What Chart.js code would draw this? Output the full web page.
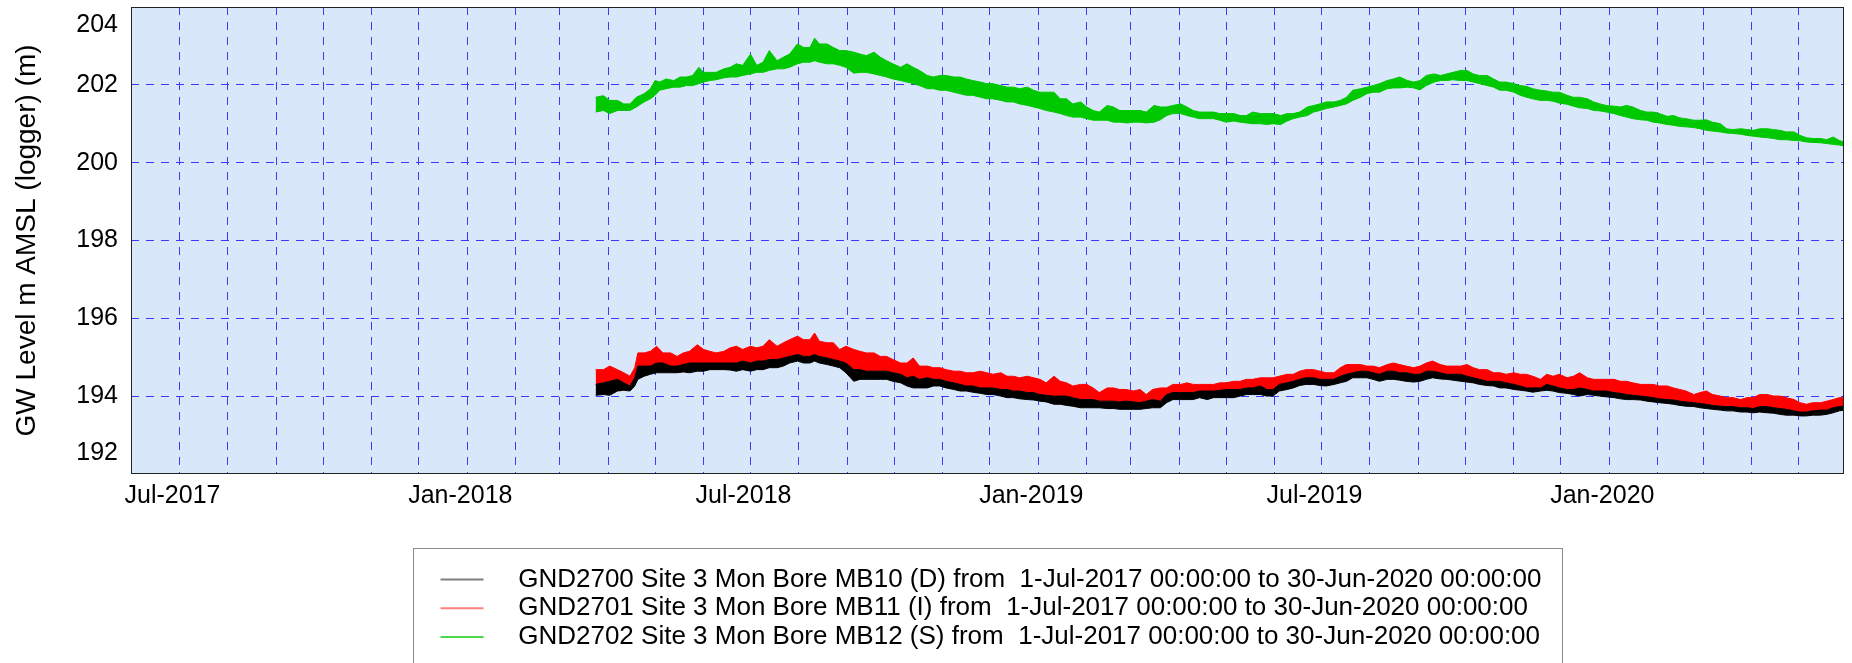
<!DOCTYPE html>
<html><head><meta charset="utf-8">
<script src="https://cdn.jsdelivr.net/npm/chart.js@4.4.1/dist/chart.umd.min.js"></script>
<style>html,body{margin:0;padding:0;background:#fff;} #wrap{width:1852px;height:663px;}</style>
</head><body><div id="wrap"><canvas id="c" width="1852" height="663"></canvas></div>
<script>
// ---------- DATA (days counted from 1-Jul-2017, levels in m AMSL) ----------
const seriesNames = [
  'GND2700 Site 3 Mon Bore MB10 (D) from  1-Jul-2017 00:00:00 to 30-Jun-2020 00:00:00',
  'GND2701 Site 3 Mon Bore MB11 (I) from  1-Jul-2017 00:00:00 to 30-Jun-2020 00:00:00',
  'GND2702 Site 3 Mon Bore MB12 (S) from  1-Jul-2017 00:00:00 to 30-Jun-2020 00:00:00'
];
const xAxisDays = [-31, 1064];
const gridMonths = ['2017-07','2017-08','2017-09','2017-10','2017-11','2017-12',
  '2018-01','2018-02','2018-03','2018-04','2018-05','2018-06','2018-07','2018-08','2018-09','2018-10','2018-11','2018-12',
  '2019-01','2019-02','2019-03','2019-04','2019-05','2019-06','2019-07','2019-08','2019-09','2019-10','2019-11','2019-12',
  '2020-01','2020-02','2020-03','2020-04','2020-05'];
const xLabelMonths = ['2017-07','2018-01','2018-07','2019-01','2019-07','2020-01'];
const xTickLabels = ['Jul-2017','Jan-2018','Jul-2018','Jan-2019','Jul-2019','Jan-2020'];
const yTickValues = [192,194,196,198,200,202,204];

// MB10 / MB11 sample days
const bDays = [266,271,275,280,284,288,291,293,297,301,305,309,314,318,322,326,331,335,339,343,348,352,356,360,365,369,373,377,382,386,390,395,399,403,406,409,414,418,422,426,431,435,439,444,448,452,456,461,465,469,473,478,482,486,490,495,499,503,507,512,516,520,525,529,533,537,542,546,550,554,
  559,563,567,571,576,580,584,588,593,597,601,605,610,614,618,622,627,631,635,640,644,648,652,657,661,665,669,674,678,682,686,691,695,699,703,708,712,716,720,725,729,733,738,742,746,750,755,759,763,767,772,776,780,784,789,793,797,801,806,810,814,819,823,827,831,836,840,
  844,848,853,857,861,865,870,874,878,882,887,891,895,900,904,908,912,917,921,925,929,934,938,942,946,951,955,959,963,968,972,976,980,985,989,993,998,1002,1006,1010,1015,1019,1023,1027,1032,1036,1040,1044,1049,1053,1057,1061,1064];

// MB11 (I) upper envelope
const mb11Hi = [194.68,194.68,194.77,194.68,194.60,194.51,194.73,195.11,195.11,195.15,
  195.28,195.11,195.11,195.02,195.11,195.15,195.32,195.20,195.15,195.11,
  195.15,195.24,195.28,195.20,195.28,195.24,195.28,195.45,195.28,195.37,
  195.45,195.54,195.45,195.45,195.62,195.41,195.37,195.37,195.20,195.28,
  195.20,195.15,195.11,195.11,195.02,195.02,194.94,194.85,194.85,194.98,
  194.77,194.77,194.73,194.73,194.68,194.64,194.64,194.60,194.60,194.64,
  194.60,194.56,194.60,194.51,194.51,194.47,194.51,194.47,194.43,194.34,
  194.51,194.38,194.34,194.26,194.30,194.30,194.21,194.09,194.21,194.21,
  194.17,194.17,194.13,194.17,194.04,194.17,194.21,194.21,194.30,194.30,
  194.34,194.30,194.30,194.30,194.30,194.34,194.34,194.38,194.38,194.43,
  194.43,194.47,194.47,194.47,194.51,194.56,194.56,194.64,194.68,194.68,
  194.64,194.60,194.60,194.73,194.81,194.81,194.81,194.77,194.77,194.73,
  194.81,194.85,194.81,194.77,194.73,194.77,194.85,194.90,194.81,194.77,
  194.77,194.77,194.81,194.73,194.68,194.68,194.60,
  194.60,194.56,194.60,194.56,194.56,194.51,194.43,194.56,194.51,194.56,
  194.47,194.51,194.60,194.47,194.43,194.43,194.43,194.43,194.38,194.38,
  194.34,194.30,194.30,194.30,194.26,194.26,194.21,194.17,194.13,194.04,
  194.09,194.13,194.04,194.00,193.96,193.96,193.91,193.96,193.96,194.04,
  194.04,194.00,194.00,193.96,193.91,193.83,193.79,193.83,193.83,193.87,
  193.91,193.96,193.96];

// MB10 (D) upper envelope
const mb10Hi = [194.30,194.34,194.38,194.43,194.34,194.26,194.47,194.77,194.77,194.77,
  194.85,194.85,194.77,194.77,194.81,194.85,194.85,194.85,194.85,194.85,
  194.85,194.85,194.85,194.90,194.85,194.90,194.90,194.94,194.94,194.98,
  195.02,195.07,195.02,195.02,195.07,195.02,194.98,194.94,194.90,194.85,
  194.68,194.68,194.64,194.64,194.64,194.64,194.60,194.56,194.47,194.51,
  194.43,194.47,194.43,194.43,194.38,194.34,194.30,194.26,194.26,194.21,
  194.21,194.21,194.17,194.17,194.13,194.13,194.09,194.09,194.04,194.02,
  194.00,194.00,194.00,193.96,193.91,193.91,193.91,193.87,193.87,193.87,
  193.85,193.87,193.85,193.83,193.87,193.91,193.87,194.04,194.09,194.09,
  194.09,194.09,194.13,194.13,194.13,194.15,194.17,194.17,194.17,194.21,
  194.21,194.26,194.17,194.17,194.30,194.34,194.38,194.43,194.47,194.47,
  194.43,194.43,194.43,194.51,194.56,194.60,194.64,194.64,194.60,194.56,
  194.64,194.64,194.60,194.60,194.56,194.56,194.64,194.64,194.60,194.56,
  194.56,194.56,194.51,194.47,194.43,194.38,194.38,
  194.38,194.34,194.30,194.26,194.21,194.21,194.21,194.30,194.26,194.21,
  194.17,194.17,194.21,194.17,194.13,194.13,194.13,194.09,194.07,194.04,
  194.02,194.00,193.98,193.96,193.93,193.91,193.90,193.87,193.85,193.83,
  193.81,193.79,193.76,193.74,193.73,193.73,193.70,193.70,193.68,193.73,
  193.73,193.70,193.68,193.66,193.62,193.59,193.59,193.62,193.64,193.64,
  193.70,193.73,193.74];

// MB10 (D) lower envelope
const mb10Lo = [194.02,194.04,194.02,194.13,194.15,194.13,194.26,194.43,194.51,194.56,
  194.60,194.60,194.60,194.60,194.62,194.60,194.64,194.64,194.68,194.68,
  194.68,194.67,194.64,194.68,194.64,194.68,194.68,194.73,194.73,194.77,
  194.85,194.90,194.85,194.85,194.90,194.85,194.81,194.77,194.73,194.60,
  194.38,194.43,194.43,194.43,194.43,194.43,194.38,194.34,194.26,194.21,
  194.21,194.21,194.26,194.26,194.21,194.17,194.13,194.13,194.10,194.07,
  194.04,194.04,194.00,193.96,193.96,193.93,193.91,193.90,193.87,193.85,
  193.79,193.79,193.76,193.74,193.70,193.70,193.70,193.70,193.68,193.68,
  193.66,193.66,193.66,193.66,193.68,193.70,193.70,193.83,193.91,193.91,
  193.91,193.91,193.96,193.91,193.96,193.96,193.96,193.96,194.00,194.04,
  194.04,194.04,194.00,194.00,194.13,194.17,194.21,194.27,194.30,194.30,
  194.27,194.26,194.30,194.34,194.38,194.47,194.47,194.47,194.43,194.38,
  194.43,194.43,194.41,194.38,194.36,194.38,194.43,194.47,194.44,194.43,
  194.41,194.38,194.36,194.34,194.30,194.27,194.26,
  194.21,194.21,194.17,194.15,194.13,194.10,194.13,194.15,194.13,194.09,
  194.07,194.04,194.00,194.04,194.02,194.00,193.98,193.96,193.93,193.91,
  193.91,193.90,193.87,193.85,193.83,193.81,193.79,193.76,193.74,193.73,
  193.70,193.68,193.66,193.64,193.62,193.62,193.59,193.59,193.57,193.59,
  193.57,193.56,193.53,193.51,193.51,193.49,193.49,193.51,193.51,193.53,
  193.57,193.62,193.64];

// MB12 sample days
const gDays = [266,271,275,280,284,288,292,297,301,304,307,311,316,320,324,328,332,335,339,343,348,352,356,360,365,369,373,377,382,386,390,395,399,403,406,409,414,418,422,426,431,435,439,444,448,452,456,461,465,469,473,478,482,486,490,495,499,503,507,512,516,520,
  525,529,533,537,542,546,550,554,559,563,567,571,576,580,584,588,593,597,601,606,610,614,618,623,627,631,635,640,644,648,652,657,661,665,669,674,678,682,686,691,695,699,704,708,712,716,721,725,729,733,738,742,746,750,755,759,763,767,772,776,780,785,789,793,797,802,806,810,814,819,823,827,831,836,840,
  844,848,853,857,861,865,870,874,878,882,887,891,895,900,904,908,912,917,921,925,929,934,938,942,946,951,955,959,963,968,972,976,980,985,989,993,998,1002,1006,1010,1015,1019,1023,1027,1032,1036,1040,1044,1049,1053,1057,1061,1064];

// MB12 (S) upper envelope
const mb12Hi = [201.68,201.72,201.60,201.60,201.51,201.51,201.68,201.77,201.90,202.11,
  202.07,202.15,202.11,202.20,202.20,202.24,202.45,202.32,202.32,202.32,
  202.41,202.45,202.54,202.50,202.79,202.50,202.58,202.88,202.62,202.71,
  202.79,203.05,202.96,202.96,203.20,203.05,203.05,202.96,202.88,202.88,
  202.84,202.79,202.75,202.84,202.71,202.62,202.54,202.45,202.54,202.45,
  202.37,202.24,202.20,202.24,202.24,202.20,202.20,202.15,202.11,202.07,
  202.03,202.03,
  201.98,201.94,201.94,201.90,201.94,201.86,201.81,201.81,201.81,201.64,
  201.64,201.51,201.56,201.43,201.34,201.30,201.47,201.43,201.34,201.34,
  201.34,201.34,201.30,201.47,201.43,201.43,201.47,201.51,201.43,201.34,
  201.30,201.30,201.30,201.26,201.26,201.26,201.21,201.21,201.30,201.26,
  201.26,201.26,201.21,201.26,201.26,201.30,201.43,201.47,201.51,201.56,
  201.56,201.60,201.68,201.86,201.90,201.94,201.98,202.03,202.11,202.15,
  202.20,202.11,202.07,202.11,202.24,202.28,202.24,202.28,202.32,202.37,
  202.37,202.28,202.24,202.24,202.15,
  202.07,202.07,202.03,201.98,201.96,201.90,201.86,201.84,201.81,201.81,
  201.73,201.68,201.68,201.64,201.56,201.51,201.47,201.45,201.43,201.47,
  201.43,201.34,201.30,201.30,201.26,201.19,201.21,201.15,201.13,201.09,
  201.09,201.10,201.04,201.00,200.87,200.85,200.87,200.85,200.83,200.87,
  200.87,200.85,200.83,200.79,200.79,200.70,200.64,200.62,200.62,200.59,
  200.66,200.57,200.53];

// MB12 (S) lower envelope
const mb12Lo = [201.30,201.34,201.26,201.34,201.34,201.34,201.43,201.56,201.64,201.73,
  201.86,201.90,201.94,201.94,201.98,201.98,202.03,202.07,202.11,202.13,
  202.18,202.20,202.20,202.24,202.28,202.32,202.32,202.37,202.41,202.41,
  202.45,202.54,202.58,202.58,202.62,202.58,202.54,202.54,202.50,202.45,
  202.30,202.32,202.32,202.28,202.24,202.20,202.15,202.11,202.07,202.03,
  201.98,201.90,201.90,201.86,201.86,201.81,201.77,201.73,201.73,201.68,
  201.64,201.64,
  201.60,201.56,201.56,201.51,201.47,201.43,201.39,201.34,201.30,201.26,
  201.21,201.17,201.17,201.13,201.09,201.09,201.09,201.04,201.04,201.02,
  201.04,201.04,201.02,201.04,201.10,201.21,201.26,201.26,201.21,201.17,
  201.13,201.13,201.13,201.09,201.04,201.07,201.04,201.02,201.00,201.00,
  200.98,201.00,200.98,201.07,201.13,201.17,201.21,201.30,201.34,201.39,
  201.43,201.47,201.51,201.60,201.68,201.77,201.81,201.81,201.90,201.92,
  201.92,201.94,201.92,201.87,201.98,202.07,202.11,202.11,202.13,202.11,
  202.11,202.07,202.03,201.98,201.94,
  201.86,201.86,201.81,201.73,201.68,201.64,201.60,201.60,201.58,201.53,
  201.50,201.45,201.41,201.39,201.34,201.33,201.30,201.26,201.21,201.17,
  201.13,201.10,201.09,201.04,201.02,200.98,200.96,200.93,200.92,200.90,
  200.87,200.83,200.81,200.79,200.76,200.75,200.73,200.70,200.68,200.66,
  200.64,200.62,200.59,200.59,200.57,200.56,200.53,200.52,200.51,200.49,
  200.47,200.45,200.43];

// ---------- CHART ----------
const FONT = "'Liberation Sans', Arial, Helvetica, sans-serif";
Chart.defaults.font.family = FONT;
Chart.defaults.color = '#000';

const GRID = '#3a3aff';
const PLOT_BG = '#d9e7fb';
const DAY0 = Date.UTC(2017, 6, 1);
const monthToDay = m => (Date.UTC(+m.slice(0,4), +m.slice(5,7) - 1, 1) - DAY0) / 864e5;
const gridDays = gridMonths.map(monthToDay);
const labelDays = xLabelMonths.map(monthToDay);

const pts = (days, vals) => days.map((d, i) => ({x: d, y: vals[i]}));

const datasets = [
  {label: seriesNames[0], legendColor: 'rgba(0,0,0,0.5)', data: pts(bDays, mb10Hi), borderColor: '#000', backgroundColor: '#000', fill: '+1'},
  {label: '', data: pts(bDays, mb10Lo), borderColor: '#000', backgroundColor: '#000', fill: false},
  {label: seriesNames[1], legendColor: 'rgba(255,0,0,0.5)', data: pts(bDays, mb11Hi), borderColor: '#ff0000', backgroundColor: '#ff0000', fill: '-2'},
  {label: seriesNames[2], legendColor: 'rgba(0,200,0,0.7)', data: pts(gDays, mb12Hi), borderColor: '#00c800', backgroundColor: '#00c800', fill: '+1'},
  {label: '', data: pts(gDays, mb12Lo), borderColor: '#00c800', backgroundColor: '#00c800', fill: false}
].map(d => Object.assign({borderWidth: 1, pointRadius: 0, tension: 0}, d));

let legendItemWidth = 0;
const plotDecor = {
  id: 'plotDecor',
  beforeDraw(chart) {
    const {ctx, chartArea: a} = chart;
    ctx.save();
    ctx.fillStyle = PLOT_BG;
    ctx.fillRect(a.left, a.top, a.right - a.left, a.bottom - a.top);
    ctx.restore();
    // keep the end labels of the y axis inside the plot height
    chart.scales.y.getLabelItems().forEach(it => {
      if (it._moved) return;
      if (it.label === String(yTickValues[yTickValues.length - 1])) it.options.translation[1] += 18;
      if (it.label === String(yTickValues[0])) it.options.translation[1] -= 21;
      it._moved = true;
    });
  },
  afterLayout(chart) {
    const lg = chart.legend;
    const lw = lg && lg.lineWidths;
    if (lw && lw.length) {
      const m = Math.max(...lw);
      legendItemWidth = m - lg.options.labels.padding;
      lw.fill(m - 7);
    }
  },
  afterDatasetsDraw(chart) {
    const {ctx, chartArea: a} = chart;
    ctx.save();
    ctx.strokeStyle = '#222';
    ctx.lineWidth = 1;
    ctx.strokeRect(Math.round(a.left) + 0.5, Math.round(a.top) + 0.5, Math.round(a.right - a.left) - 1, Math.round(a.bottom - a.top) - 1);
    ctx.restore();
  },
  afterDraw(chart) {
    const lg = chart.legend;
    if (!lg || !legendItemWidth) return;
    const {ctx, chartArea: a} = chart;
    const w = legendItemWidth + 48;
    const cx = (a.left + a.right) / 2;
    const left = Math.round(cx - w / 2) + 0.5;
    const top = Math.round(lg.top - 16) + 0.5;
    ctx.save();
    ctx.strokeStyle = '#8a8a8a';
    ctx.lineWidth = 1;
    ctx.strokeRect(left, top, Math.round(w), chart.height - top + 5);
    ctx.restore();
  }
};

new Chart(document.getElementById('c'), {
  type: 'line',
  data: {datasets},
  plugins: [plotDecor],
  options: {
    responsive: false,
    animation: false,
    devicePixelRatio: 1,
    events: [],
    layout: {padding: {left: 0, top: 7, right: 8, bottom: 3}},
    plugins: {
      tooltip: {enabled: false},
      legend: {
        position: 'bottom',
        fullSize: false,
        labels: {
          usePointStyle: true,
          pointStyleWidth: 43,
          padding: 2.7,
          color: '#000',
          font: {size: 26, family: FONT},
          generateLabels: (chart) => chart.data.datasets
            .map((ds, i) => ({ds, i}))
            .filter(o => o.ds.label)
            .map(({ds, i}) => ({
              text: '   ' + ds.label,
              strokeStyle: ds.legendColor,
              fillStyle: ds.legendColor,
              lineWidth: 2,
              pointStyle: 'line',
              hidden: false,
              datasetIndex: i,
              fontColor: '#000'
            }))
        }
      }
    },
    scales: {
      x: {
        type: 'linear',
        min: xAxisDays[0],
        max: xAxisDays[1],
        afterBuildTicks: s => { s.ticks = gridDays.map(v => ({value: v})); },
        afterFit: s => { s.height = 90; s.paddingLeft = 0; s.paddingRight = 0; },
        grid: {color: GRID, lineWidth: 1, drawTicks: false},
        border: {display: false, dash: [8, 7]},
        ticks: {
          autoSkip: false, maxRotation: 0, minRotation: 0, padding: 7, labelOffset: -7,
          color: '#000', font: {size: 25, family: FONT},
          callback: v => { const k = labelDays.indexOf(v); return k >= 0 ? xTickLabels[k] : ''; }
        }
      },
      y: {
        type: 'linear',
        min: yTickValues[0],
        max: yTickValues[yTickValues.length - 1],
        afterBuildTicks: s => { s.ticks = yTickValues.map(v => ({value: v})); },
        afterFit: s => { s.width = 131; s.paddingTop = 0; s.paddingBottom = 0; },
        grid: {
          color: c => (c.tick && (c.tick.value === yTickValues[0] || c.tick.value === yTickValues[yTickValues.length - 1])) ? 'rgba(0,0,0,0)' : GRID,
          lineWidth: 1, drawTicks: false
        },
        border: {display: false, dash: [8, 7]},
        ticks: {padding: 13, color: '#000', font: {size: 25, family: FONT}, callback: v => String(v)},
        title: {
          display: true,
          text: 'GW Level m AMSL (logger) (m)',
          color: '#000',
          font: {size: 28, family: FONT, lineHeight: 1},
          padding: {top: 13, bottom: 0}
        }
      }
    }
  }
});
</script></body></html>
